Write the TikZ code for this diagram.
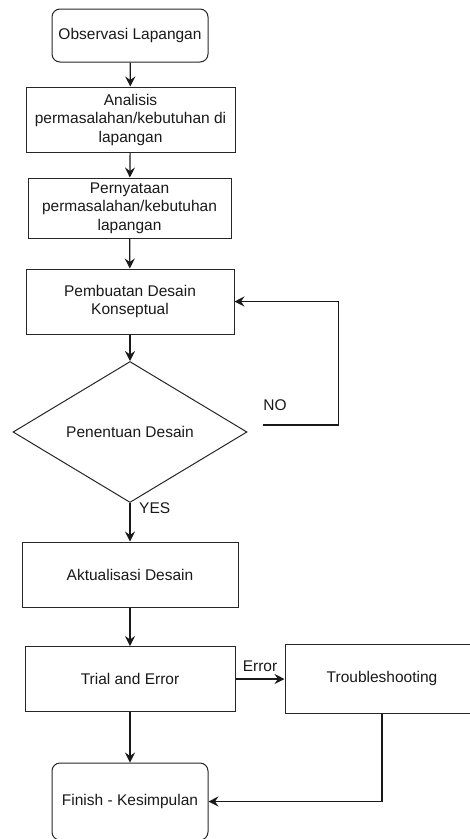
\documentclass[tikz,border=0pt]{standalone}
\usepackage{fontspec}
\setmainfont{Liberation Sans}
\usetikzlibrary{shapes.geometric,arrows.meta}
\begin{document}
\begin{tikzpicture}[x=1pt,y=-1pt,
  every node/.style={font=\fontsize{15.5}{18.5}\selectfont, text=black!90},
  box/.style={draw=black!85, line width=1pt, align=center, inner sep=0pt},
  rbox/.style={box, rounded corners=8pt},
  dec/.style={draw=black!85, line width=1pt, shape=diamond, inner sep=0pt, aspect=1.66},
  conn/.style={draw=black!90, line width=1.2pt, -{Stealth[length=10pt,width=10pt,inset=3.5pt]}},
  lbl/.style={inner sep=0pt}]
\useasboundingbox (0,0) rectangle (470,839);
\node[rbox, minimum width=156pt, minimum height=53pt] (obs) at (130,35.5) {Observasi Lapangan};
\node[box, minimum width=209pt, minimum height=65pt] (ana) at (130.5,119.5) {Analisis\\permasalahan/kebutuhan di\\lapangan};
\node[box, minimum width=203pt, minimum height=60pt] (per) at (129.5,208) {Pernyataan\\permasalahan/kebutuhan\\lapangan};
\node[box, minimum width=208pt, minimum height=65pt] (pem) at (130,301.5) {Pembuatan Desain\\Konseptual};
\node[dec, minimum width=234pt, minimum height=141pt] (pen) at (130,432) {Penentuan Desain};
\node[box, minimum width=216pt, minimum height=65pt] (akt) at (130,574.5) {Aktualisasi Desain};
\node[box, minimum width=210pt, minimum height=65pt] (tri) at (130,679) {Trial and Error};
\node[box, minimum width=194pt, minimum height=69pt] (trb) at (382,678.5) {Troubleshooting};
\node[rbox, minimum width=156pt, minimum height=77pt] (fin) at (130,801.5) {Finish - Kesimpulan};
\coordinate (nostart) at (263,425);
\coordinate (nocorner) at (338.5,425);
\node[lbl] (no) at (275,405) {NO};
\node[lbl, anchor=west] (yes) at (139,508) {YES};
\node[lbl] (err) at (260,666) {Error};
\draw[conn] (obs) -- (ana);
\draw[conn] (ana) -- (per);
\draw[conn] (per) -- (pem);
\draw[conn] (pem) -- (pen);
\draw[conn] (pen) -- (akt);
\draw[conn] (akt) -- (tri);
\draw[conn] (tri) -- (fin);
\draw[conn] (tri.east) -- (tri.east -| trb.west);
\draw[conn] (trb.south) |- (fin.east);
\draw[conn] (nostart) -- (nocorner) |- (pem.east);
\end{tikzpicture}
\end{document}
